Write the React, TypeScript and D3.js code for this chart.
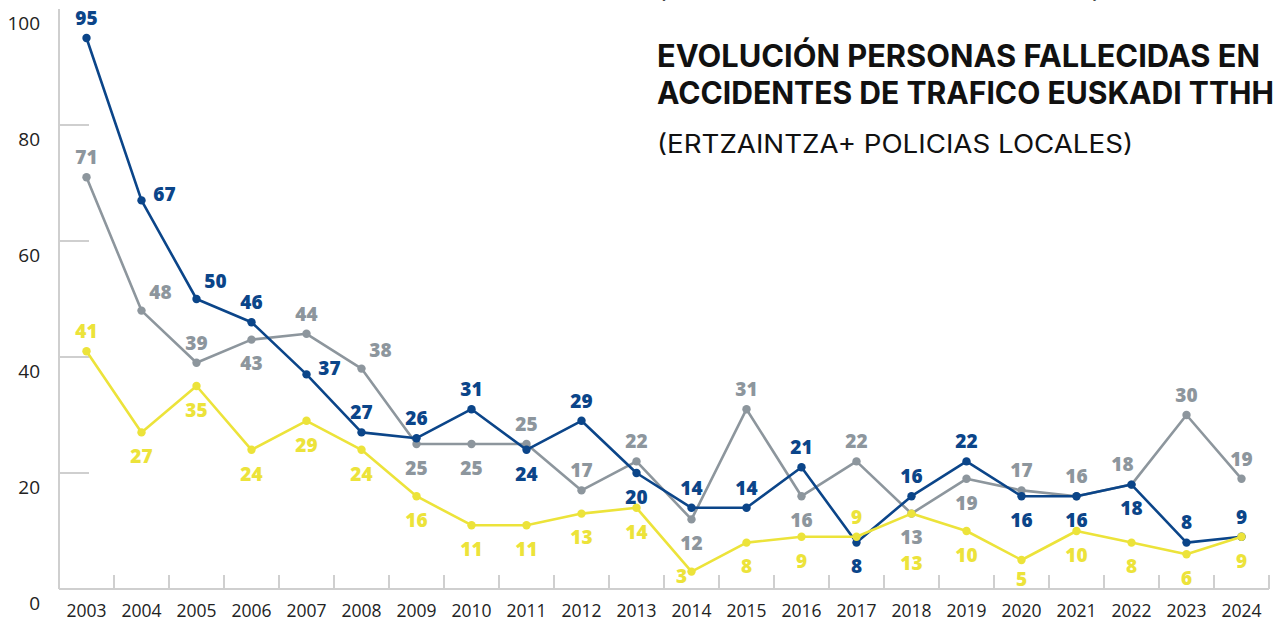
import React from "react";
import * as d3 from "d3";

const years = [
  "2003", "2004", "2005", "2006", "2007", "2008", "2009", "2010", "2011", "2012", "2013",
  "2014", "2015", "2016", "2017", "2018", "2019", "2020", "2021", "2022", "2023", "2024",
];

const blueValues = [95, 67, 50, 46, 37, 27, 26, 31, 24, 29, 20, 14, 14, 21, 8, 16, 22, 16, 16, 18, 8, 9];
const grayValues = [71, 48, 39, 43, 44, 38, 25, 25, 25, 17, 22, 12, 31, 16, 22, 13, 19, 17, 16, 18, 30, 19];
const yellowValues = [41, 27, 35, 24, 29, 24, 16, 11, 11, 13, 14, 3, 8, 9, 9, 13, 10, 5, 10, 8, 6, 9];

const yTicks = [0, 20, 40, 60, 80, 100];

// where each value label sits relative to its point
const bluePlace = ["t", "r", "tr", "t", "r", "t", "t", "t", "b", "t", "b", "t", "t", "t", "b", "t", "t", "b", "b", "b", "t", "t"];
const grayPlace = ["t", "tr", "t", "b", "t", "tr", "b", "b", "t", "t", "t", "b", "t", "b", "t", "b", "b", "t", "t", "tl", "t", "t"];
const yellowPlace = ["t", "b", "b", "b", "b", "b", "b", "b", "b", "b", "b", "l", "b", "b", "t", "bb", "b", "bs", "b", "b", "b", "b"];

const offsets: Record<string, [number, number]> = {
  t: [0, -20],
  b: [0, 24],
  bs: [0, 19],
  bb: [0, 50],
  r: [23, -6],
  tr: [19, -18],
  tl: [-9, -20],
  l: [-10, 5],
};

const BLUE = "#0b4589";
const GRAY = "#8d969d";
const YELLOW = "#ece33a";
const AXIS = "#cfcfcf";

export default function App() {
  const width = 1277;
  const height = 621;

  const x = d3.scaleBand<string>().domain(years).range([59, 1269]).padding(0);
  const y = d3.scaleLinear().domain([0, 100]).range([589, 9]);
  const cx = (yr: string) => (x(yr) as number) + x.bandwidth() / 2;

  const line = d3
    .line<number>()
    .x((_, i) => cx(years[i]))
    .y((d) => y(d));

  const series = [
    { name: "gray", values: grayValues, place: grayPlace, color: GRAY },
    { name: "blue", values: blueValues, place: bluePlace, color: BLUE },
    { name: "yellow", values: yellowValues, place: yellowPlace, color: YELLOW },
  ];

  return (
    <svg
      width={width}
      height={height}
      style={{ position: "absolute", left: 0, top: 0, background: "#fff" }}
      fontFamily="'Open Sans', sans-serif"
    >
      {/* cut-off line above the title */}
      <text x={657} y={-3} fontFamily="Inter, sans-serif" fontSize={26} fill="#111">(</text>
      <text x={1092} y={-3} fontFamily="Inter, sans-serif" fontSize={26} fill="#111">)</text>

      {/* title */}
      <text x={657} y={67} fontFamily="Inter, sans-serif" fontWeight={700} fontSize={31} fill="#111"
        textLength={603} lengthAdjust="spacingAndGlyphs">
        EVOLUCIÓN PERSONAS FALLECIDAS EN
      </text>
      <text x={657} y={104} fontFamily="Inter, sans-serif" fontWeight={700} fontSize={31} fill="#111"
        textLength={617} lengthAdjust="spacingAndGlyphs">
        ACCIDENTES DE TRAFICO EUSKADI TTHH
      </text>
      <text x={657} y={153} fontFamily="Inter, sans-serif" fontWeight={400} fontSize={25} fill="#111"
        textLength={476} lengthAdjust="spacingAndGlyphs">
        (ERTZAINTZA+ POLICIAS LOCALES)
      </text>

      {/* y axis */}
      <line x1={59} x2={59} y1={y(100)} y2={y(0)} stroke={AXIS} strokeWidth={2} />
      {yTicks.map((t) => (
        <g key={t}>
          {t > 0 && t < 100 && (
            <line x1={59} x2={89} y1={y(t)} y2={y(t)} stroke={AXIS} strokeWidth={2} />
          )}
          <text x={40} y={y(t) + 21} textAnchor="end" fontSize={19} fill="#222">
            {t}
          </text>
        </g>
      ))}

      {/* x axis */}
      <line x1={59} x2={1269} y1={y(0)} y2={y(0)} stroke={AXIS} strokeWidth={2} />
      {years.map((yr) => (
        <g key={yr}>
          <line
            x1={(x(yr) as number) + x.bandwidth()}
            x2={(x(yr) as number) + x.bandwidth()}
            y1={y(0)}
            y2={y(0) - 14}
            stroke={AXIS}
            strokeWidth={2}
          />
          <text x={cx(yr)} y={617} textAnchor="middle" fontSize={17.5} fill="#222">
            {yr}
          </text>
        </g>
      ))}

      {/* series */}
      {series.map((s) => (
        <g key={s.name}>
          <path d={line(s.values) || ""} fill="none" stroke={s.color} strokeWidth={2.6} strokeLinejoin="round" />
          {s.values.map((v, i) => (
            <circle key={i} cx={cx(years[i])} cy={y(v)} r={4.2} fill={s.color} />
          ))}
        </g>
      ))}
      {series.map((s) => (
        <g key={s.name + "-labels"}>
          {s.values.map((v, i) => {
            const [dx, dy] = offsets[s.place[i]];
            return (
              <text
                key={i}
                x={cx(years[i]) + dx}
                y={y(v) + dy + 6.8}
                textAnchor="middle"
                fontSize={19}
                fontWeight={800}
                fill={s.color}
              >
                {v}
              </text>
            );
          })}
        </g>
      ))}
    </svg>
  );
}
